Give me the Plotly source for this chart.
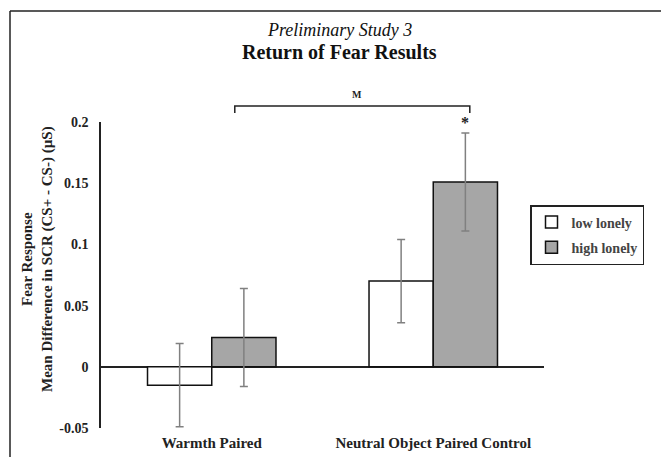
import plotly.graph_objects as go

categories = ["Warmth Paired", "Neutral Object Paired Control"]
low_lonely = [-0.015, 0.070]
low_err = [0.034, 0.034]
high_lonely = [0.024, 0.151]
high_err = [0.040, 0.040]
series_names = ["low lonely", "high lonely"]
y_tickvals = [-0.05, 0, 0.05, 0.1, 0.15, 0.2]
y_ticktext = ["-0.05", "0", "0.05", "0.1", "0.15", "0.2"]

FONT = "Liberation Serif"
W, H = 661, 457
ML, MR, MT, MB = 101, 117, 122, 29
PW, PH = W - ML - MR, H - MT - MB


def px(xp):
    return (xp - ML) / PW


def py(yp):
    return (H - MB - yp) / PH


fig = go.Figure()
fig.add_trace(go.Bar(
    x=categories, y=low_lonely, name=series_names[0], legendgroup="a",
    marker=dict(color="white", line=dict(color="#111", width=1.5)),
    error_y=dict(type="data", array=low_err, color="#808080", thickness=1.5, width=4),
))
fig.add_trace(go.Bar(
    x=categories, y=high_lonely, name=series_names[1], legendgroup="b",
    marker=dict(color="#a6a6a6", line=dict(color="#111", width=1.5)),
    error_y=dict(type="data", array=high_err, color="#808080", thickness=1.5, width=4),
))

bargap = 0.42
half = (1 - bargap) / 4  # offset of each bar center from category center

fig.update_layout(
    width=W, height=H,
    margin=dict(l=ML, r=MR, t=MT, b=MB),
    paper_bgcolor="white", plot_bgcolor="white",
    barmode="group", bargap=bargap, bargroupgap=0,
    font=dict(family=FONT, color="#222"),
    showlegend=True,
    legend=dict(
        x=px(530), y=py(205), xanchor="left", yanchor="top",
        bordercolor="#222", borderwidth=1.5, bgcolor="white",
        font=dict(family=FONT, size=14, color="#444", weight="bold"),
        traceorder="grouped", tracegroupgap=4, itemwidth=30,
    ),
    xaxis=dict(
        showline=False, showgrid=False, ticks="", ticklabelstandoff=4, automargin=False,
        tickfont=dict(family=FONT, size=15, color="#222", weight="bold"),
        range=[-0.5, 1.5],
    ),
    yaxis=dict(
        range=[-0.05, 0.2], tickvals=y_tickvals, ticktext=y_ticktext, automargin=False,
        showline=True, linecolor="#222", linewidth=1.5,
        showgrid=False, zeroline=True, zerolinecolor="#222", zerolinewidth=1.5,
        ticks="", ticklabelstandoff=8,
        tickfont=dict(family=FONT, size=14, color="#222", weight="bold"),
    ),
)

# outer frame
fig.add_shape(type="line", xref="paper", yref="paper", x0=px(10), x1=px(661), y0=py(11), y1=py(11),
              line=dict(color="#222", width=1.5))
fig.add_shape(type="line", xref="paper", yref="paper", x0=px(10), x1=px(10), y0=py(11), y1=py(457),
              line=dict(color="#222", width=1.5))

# titles
fig.add_annotation(text="Preliminary Study 3", xref="paper", yref="paper", x=px(339), y=py(30),
                   xanchor="center", yanchor="middle", showarrow=False,
                   font=dict(family=FONT, size=18, color="#111", style="italic"))
fig.add_annotation(text="Return of Fear Results", xref="paper", yref="paper", x=px(339), y=py(52),
                   xanchor="center", yanchor="middle", showarrow=False,
                   font=dict(family=FONT, size=20, color="#111", weight="bold"))

# y-axis title
fig.add_annotation(text="Fear Response<br>Mean Difference in SCR (CS+ - CS-) (µS)",
                   xref="paper", yref="paper", x=px(37), y=py(259), textangle=-90,
                   xanchor="center", yanchor="middle",
                   showarrow=False, font=dict(family=FONT, size=15, color="#222", weight="bold"))

# significance bracket (between warmth high bar and neutral high bar)
bx0 = (0 + 0.104 + 0.5) / 2
bx1 = (1 + 0.165 + 0.5) / 2
fig.add_shape(type="path", xref="paper", yref="paper",
              path=f"M {bx0},{py(113)} L {bx0},{py(106)} L {bx1},{py(106)} L {bx1},{py(113)}",
              line=dict(color="#222", width=1.5))
fig.add_annotation(text="M", xref="paper", yref="paper", x=px(357), y=py(94),
                   xanchor="center", yanchor="middle", showarrow=False,
                   font=dict(family=FONT, size=10, color="#222", weight="bold"))
fig.add_annotation(text="*", xref="x", yref="y", x=1 + half, y=high_lonely[1] + high_err[1],
                   yanchor="bottom", showarrow=False,
                   font=dict(family=FONT, size=16, color="#222", weight="bold"))

fig.write_html("out.html", config={"displayModeBar": False},
               post_script="document.body.style.margin='0';")
